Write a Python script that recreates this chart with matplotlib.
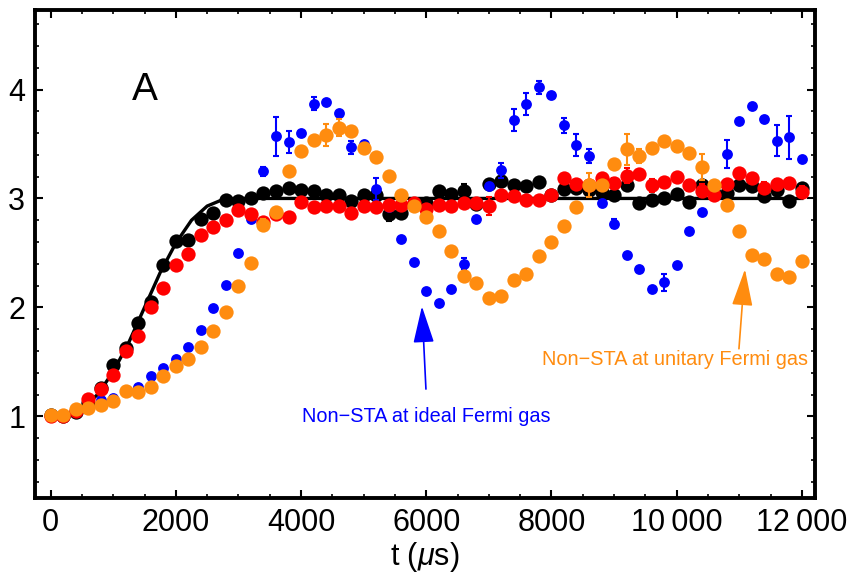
import numpy as np
import matplotlib.pyplot as plt
from matplotlib.patches import FancyArrowPatch
from matplotlib.ticker import MultipleLocator

plt.rcParams['font.family'] = ['Liberation Sans', 'DejaVu Sans']
plt.rcParams['mathtext.fontset'] = 'custom'
plt.rcParams['mathtext.it'] = 'Liberation Sans:italic'
plt.rcParams['mathtext.rm'] = 'Liberation Sans'

# time grid (us)
t = np.arange(0, 12001, 200)

black = [1.01, 1.00, 1.04, 1.12, 1.26, 1.47, 1.63, 1.86, 2.05, 2.39, 2.61,
         2.62, 2.81, 2.87, 2.99, 2.98, 3.00, 3.05, 3.07, 3.10, 3.08,
         3.07, 3.03, 3.03, 2.98, 3.03, 3.03, 2.86, 2.87, 2.95, 2.96,
         3.07, 3.04, 3.07, 2.95, 3.13, 3.16, 3.12, 3.11, 3.15, 3.03,
         3.09, 3.10, 3.08, 3.06, 3.03, 3.12, 2.96, 2.99, 3.00, 3.04,
         2.97, 3.12, 3.05, 3.05, 3.12, 3.11, 3.02, 3.08, 2.98, 3.10]

red = [1.00, 1.00, 1.05, 1.16, 1.25, 1.38, 1.60, 1.74, 2.00, 2.18, 2.39,
       2.49, 2.66, 2.74, 2.80, 2.89, 2.86, 2.78, 2.86, 2.83, 2.97,
       2.92, 2.93, 2.93, 2.87, 2.93, 2.92, 2.94, 2.94, 2.96, 2.90,
       2.94, 2.93, 2.96, 2.96, 2.93, 3.03, 3.02, 2.99, 2.99, 3.03,
       3.19, 3.13, 3.12, 3.19, 3.14, 3.21, 3.22, 3.12, 3.15, 3.20,
       3.12, 3.07, 3.03, 3.13, 3.23, 3.19, 3.10, 3.13, 3.14, 3.06]

blue = [1.00, 0.99, 1.05, 1.08, 1.15, 1.17, 1.24, 1.27, 1.37, 1.44, 1.53,
        1.64, 1.79, 1.99, 2.21, 2.50, 2.81, 3.25, 3.57, 3.52, 3.60,
        3.87, 3.89, 3.78, 3.47, 3.50, 3.09, 2.92, 2.63, 2.42, 2.15,
        2.04, 2.17, 2.40, 2.81, 3.11, 3.26, 3.72, 3.87, 4.02, 3.95,
        3.67, 3.49, 3.39, 2.96, 2.77, 2.48, 2.35, 2.17, 2.23, 2.39,
        2.70, 2.88, 3.05, 3.41, 3.71, 3.85, 3.73, 3.53, 3.56, 3.36]

orange = [1.01, 1.01, 1.07, 1.08, 1.10, 1.14, 1.23, 1.22, 1.27, 1.37, 1.46,
          1.53, 1.64, 1.78, 1.96, 2.20, 2.41, 2.76, 2.88, 3.25, 3.44,
          3.54, 3.58, 3.65, 3.62, 3.46, 3.38, 3.21, 3.03, 2.93, 2.83,
          2.70, 2.52, 2.29, 2.22, 2.09, 2.10, 2.25, 2.31, 2.47, 2.60,
          2.75, 2.92, 3.12, 3.12, 3.32, 3.45, 3.39, 3.46, 3.53, 3.48,
          3.42, 3.29, 3.12, 2.94, 2.70, 2.48, 2.44, 2.31, 2.28, 2.43]

# error bars (time, half length)
blue_err_t = [3400, 3600, 3800, 4200, 4800, 5200, 6600, 7200, 7400, 7600, 7800,
              8200, 8400, 8600, 9000, 9800, 10800, 11600, 11800]
blue_err = [0.04, 0.18, 0.10, 0.06, 0.06, 0.10, 0.05, 0.07, 0.10, 0.10, 0.06,
            0.07, 0.10, 0.06, 0.04, 0.08, 0.13, 0.14, 0.20]
orange_err_t = [3400, 4400, 4600, 8600, 9200, 9400, 10000, 10400]
orange_err = [0.05, 0.10, 0.08, 0.11, 0.14, 0.06, 0.05, 0.12]
black_err_t = [5400, 5600, 6600, 7200, 10400]
black_err = [0.07, 0.05, 0.06, 0.04, 0.05]
red_err_t = [7000, 9000, 9200, 9600, 10200, 10400, 10800, 11400, 11600, 11800, 12000]
red_err = [0.08, 0.05, 0.07, 0.06, 0.05, 0.06, 0.04, 0.05, 0.05, 0.05, 0.05]

# theory curve
fit_t = [0, 250, 500, 750, 1000, 1250, 1500, 1750, 2000, 2250, 2500, 2750, 3000, 12000]
fit_y = [1.00, 1.01, 1.07, 1.20, 1.41, 1.68, 2.00, 2.32, 2.59, 2.80, 2.93, 2.99, 3.00, 3.00]

xtick_vals = [0, 2000, 4000, 6000, 8000, 10000, 12000]
xtick_labels = ['0', '2000', '4000', '6000', '8000', '10\u2009000', '12\u2009000']

c_blue = '#0000ff'
c_red = '#ff0000'
c_orange = '#ff8c0f'


def yerr_of(times, errs):
    e = np.zeros(len(t))
    for tt, ee in zip(times, errs):
        e[int(tt // 200)] = ee
    return e


fig = plt.figure(figsize=(8.51, 5.76), dpi=100)
ax = fig.add_axes([35 / 851, 1 - 498 / 576, 780 / 851, 488 / 576])

ax.plot(fit_t, fit_y, color='k', lw=2.4, zorder=1)

series = [(black, black_err_t, black_err, 'k', 10.3, 2),
          (blue, blue_err_t, blue_err, c_blue, 7.8, 3),
          (red, red_err_t, red_err, c_red, 10.3, 4),
          (orange, orange_err_t, orange_err, c_orange, 10.3, 5)]
for vals, et, ev, col, ms, z in series:
    e = yerr_of(et, ev)
    m = e > 0
    ax.errorbar(t[m], np.array(vals)[m], yerr=e[m], fmt='none', ecolor=col,
                elinewidth=1.5, capsize=2.5, capthick=1.5, zorder=z)
    ax.plot(t, vals, 'o', color=col, ms=ms, mew=0, zorder=z)

ax.set_xlim(-250, 12210)
ax.set_ylim(0.25, 4.73)
ax.set_xticks(xtick_vals)
ax.set_xticklabels(xtick_labels)
ax.set_yticks([1, 2, 3, 4])
ax.xaxis.set_minor_locator(MultipleLocator(500))
ax.yaxis.set_minor_locator(MultipleLocator(0.2))
ax.tick_params(which='both', direction='in', top=True, right=True,
               labelsize=22, pad=7)
ax.tick_params(which='major', length=6, width=1.5)
ax.tick_params(which='minor', length=3, width=1.2)
for s in ax.spines.values():
    s.set_linewidth(2.8)

ax.set_xlabel('t ($\\mu$s)', fontsize=22, labelpad=2)

ax.text(1500, 4.0, 'A', fontsize=28, ha='center', va='center')

ax.text(5995, 1.0, 'Non\u2212STA at ideal Fermi gas', color=c_blue,
        fontsize=14.3, ha='center', va='center')
ax.add_patch(FancyArrowPatch((5995, 1.25), (5931, 2.01),
                             arrowstyle='-|>,head_length=2.3,head_width=0.65',
                             mutation_scale=10, color=c_blue, lw=1.2,
                             shrinkA=0, shrinkB=0, zorder=6))

ax.text(9973, 1.52, 'Non\u2212STA at unitary Fermi gas', color=c_orange,
        fontsize=14.3, ha='center', va='center')
ax.add_patch(FancyArrowPatch((10995, 1.62), (11091, 2.35),
                             arrowstyle='-|>,head_length=2.3,head_width=0.65',
                             mutation_scale=10, color=c_orange, lw=1.2,
                             shrinkA=0, shrinkB=0, zorder=6))

fig.savefig('out.png', dpi=100)
